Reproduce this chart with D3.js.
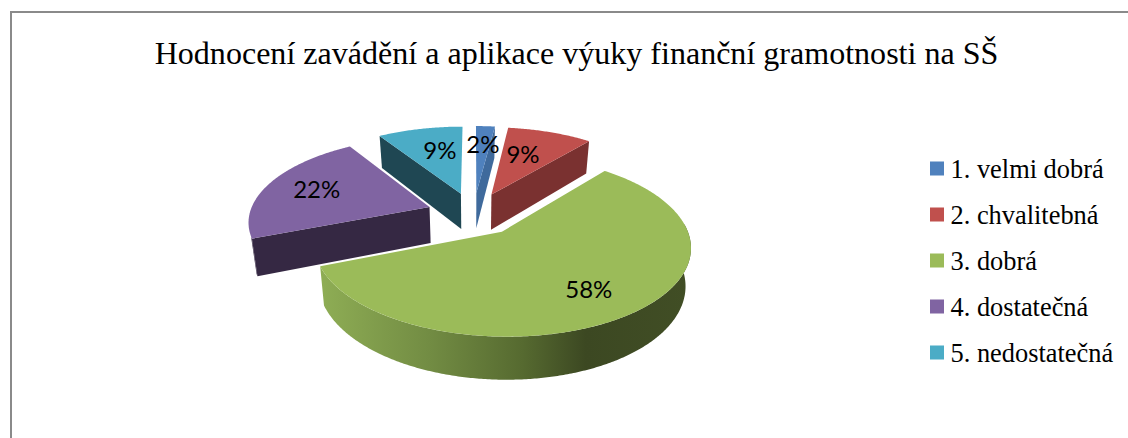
<!DOCTYPE html>
<html>
<head>
<meta charset="utf-8">
<style>html,body{margin:0;padding:0;background:#fff}svg{display:block}</style>
<script src="https://cdn.jsdelivr.net/npm/d3@7"></script>
</head>
<body>
<script>
const titleText = "Hodnocení zavádění a aplikace výuky finanční gramotnosti na SŠ";
const categories = ["1. velmi dobrá","2. chvalitebná","3. dobrá","4. dostatečná","5. nedostatečná"];
const percentages = [2,9,58,22,9];
const topColors = ["#4f81bd","#c0504d","#9bbb59","#8064a2","#4bacc6"];
const wallColors = ["#3f6a9c","#7a3130","#5a6e33","#352843","#1f4753"];
const labelRadii = [0.69,0.61,0.73,0.71,0.63];
const labelShiftX = [0,-6,-4,2,6];
const drawOrder = [4,0,1,3,2];

const W=1128,H=438;
const svg=d3.select("body").append("svg").attr("width",W).attr("height",H);

// perspective projection of the tilted disc (unit radius)
const explode=0.26,k=0.152;
const topPlane={x0:473.5,y0:213.7,A:180,B:82.9};
const basePlane={x0:473.5,y0:250,A:180*0.975,B:82.9*1.055};
function project(X,Y,p){const s=1/(1-k*Y);return [p.x0+p.A*X*s,p.y0+p.B*Y*s];}

const pie=d3.pie().sort(null).startAngle(0).endAngle(2*Math.PI);
const arcs=pie(percentages);
const line=d3.line();
function disc(a,d,r){ // slice-local point: angle, explode offset, radius
  const m=(d.startAngle+d.endAngle)/2;
  return [explode*Math.sin(m)+r*Math.sin(a), -explode*Math.cos(m)-r*Math.cos(a)];
}
function pt(a,d,r,p){const q=disc(a,d,r);return project(q[0],q[1],p);}
function angles(a0,a1){const n=Math.max(2,Math.ceil((a1-a0)/0.01));return d3.range(n+1).map(i=>a0+(a1-a0)*i/n);}

const defs=svg.append("defs");
const grad=defs.append("linearGradient").attr("id","greenRim").attr("gradientUnits","userSpaceOnUse")
  .attr("x1",318).attr("x2",690).attr("y1",0).attr("y2",0);
[[0,"#8fae55"],[0.3,"#728c43"],[0.55,"#566a30"],[0.72,"#3c4822"],[1,"#414e25"]]
  .forEach(s=>grad.append("stop").attr("offset",s[0]).attr("stop-color",s[1]));

// frame
svg.append("path").attr("d",line([[11,H],[11,12],[W,12]])).attr("fill","none").attr("stroke","#8a8a8a").attr("stroke-width",2);

// title
svg.append("text").attr("x",576.5).attr("y",64).attr("text-anchor","middle")
  .attr("font-family","'Liberation Serif'").attr("font-size",32.05).attr("fill","#000").text(titleText);

// slices
const rimMin=85*Math.PI/180,rimMax=250*Math.PI/180;
drawOrder.forEach(i=>{
  const d=arcs[i],g=svg.append("g");
  const a0=d.startAngle,a1=d.endAngle;
  // radial wall that faces the viewer
  if(i!==2){
    const a=(i===0||i===1)?a1:a0;
    g.append("path").attr("fill",wallColors[i])
      .attr("d",line([pt(a,d,0,topPlane),pt(a,d,1,topPlane),pt(a,d,1,basePlane),pt(a,d,0,basePlane)])+"Z");
  }
  // outer rim, front part only
  const r0=Math.max(a0,rimMin),r1=Math.min(a1,rimMax);
  if(r1>r0){
    const as=angles(r0,r1);
    const pts=as.map(a=>pt(a,d,1,topPlane)).concat(as.slice().reverse().map(a=>pt(a,d,1,basePlane)));
    g.append("path").attr("d",line(pts)+"Z").attr("fill",i===2?"url(#greenRim)":wallColors[i]);
  }
  // top
  const as=angles(a0,a1);
  const top=[pt(a0,d,0,topPlane)].concat(as.map(a=>pt(a,d,1,topPlane)));
  g.append("path").attr("d",line(top)+"Z").attr("fill",topColors[i]);
});

// data labels
arcs.forEach((d,i)=>{
  const m=(d.startAngle+d.endAngle)/2,p=pt(m,d,labelRadii[i],topPlane);
  svg.append("text").attr("x",p[0]+labelShiftX[i]).attr("y",p[1]).attr("dy","0.35em").attr("text-anchor","middle")
    .attr("font-family","Lato").attr("font-size",24).attr("fill","#000").text(percentages[i]+"%");
});

// legend
const legendY=d3.scalePoint().domain(categories).range([168.5,352.5]);
const lg=svg.selectAll("g.lg").data(categories).join("g").attr("class","lg")
  .attr("transform",c=>`translate(930,${legendY(c)})`);
lg.append("rect").attr("x",0).attr("y",-7).attr("width",14).attr("height",14).attr("fill",(c,i)=>topColors[i]);
lg.append("text").attr("x",20.5).attr("y",9).attr("font-family","'Liberation Serif'").attr("font-size",26.4).attr("fill","#000").text(c=>c);
</script>
</body>
</html>
